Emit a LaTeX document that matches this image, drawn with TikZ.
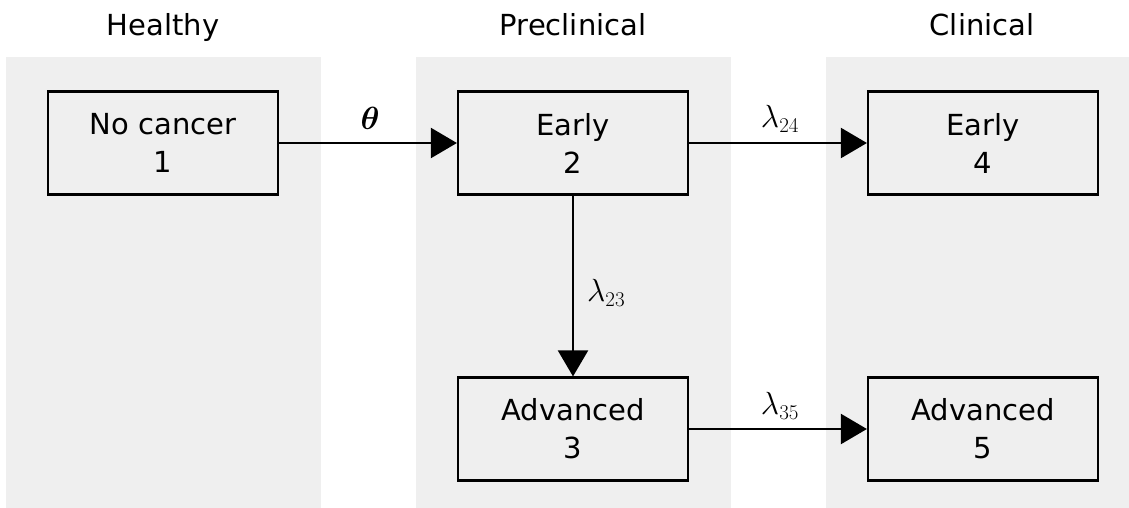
\RequirePackage{fix-cm}
\documentclass[tikz,border=0pt]{standalone}
\usepackage[no-math]{fontspec}
\setmainfont{DejaVu Sans}
\newfontfamily\lmroman{Latin Modern Roman}
\usepackage{bm}
\usetikzlibrary{arrows.meta}
\definecolor{panelgray}{RGB}{239,239,239}
% rate symbol subscript, set in roman digits
\newcommand{\ratesub}[1]{_{\hbox{\lmroman\fontsize{21}{22}\selectfont #1}}}
\tikzset{
  panel/.style={fill=panelgray, draw=none},
  statebox/.style={draw=black, line width=2.2pt, minimum width=230pt, minimum height=103pt,
    align=center, inner sep=0pt, font=\fontsize{29}{38}\selectfont},
  title/.style={font=\fontsize{29}{34}\selectfont, anchor=base},
  rate/.style={font=\fontsize{32}{36}\selectfont, inner sep=0pt},
  trans/.style={line width=2.2pt, -{Triangle[length=26pt,width=30pt]}}
}
\begin{document}
\begin{tikzpicture}[x=1pt,y=-1pt]
  \useasboundingbox (0,0) rectangle (1129,508);
  % background columns
  \fill[panel] (6,57) rectangle (321,508);
  \fill[panel] (416,57) rectangle (731,508);
  \fill[panel] (826,57) rectangle (1129,508);
  % column titles
  \node[title] (tH) at (163,36) {Healthy};
  \node[title] (tP) at (573,36) {Preclinical};
  \node[title] (tC) at (982,36) {Clinical};
  % states
  \node[statebox] (s1) at (163,143) {No cancer\\1};
  \node[statebox] (s2) at (573,143) {Early\\2};
  \node[statebox] (s3) at (573,429) {Advanced\\3};
  \node[statebox] (s4) at (983,143) {Early\\4};
  \node[statebox] (s5) at (983,429) {Advanced\\5};
  % transitions
  \draw[trans] (s1) -- (s2);
  \draw[trans] (s2) -- (s4);
  \draw[trans] (s2) -- (s3);
  \draw[trans] (s3) -- (s5);
  % rate labels
  \node[rate] (r12) at (370,118) {$\bm{\theta}$};
  \node[rate] (r24) at (780,119) {$\lambda\ratesub{24}$};
  \node[rate, anchor=west] (r23) at (587,293) {$\lambda\ratesub{23}$};
  \node[rate] (r35) at (780,406) {$\lambda\ratesub{35}$};
\end{tikzpicture}
\end{document}
